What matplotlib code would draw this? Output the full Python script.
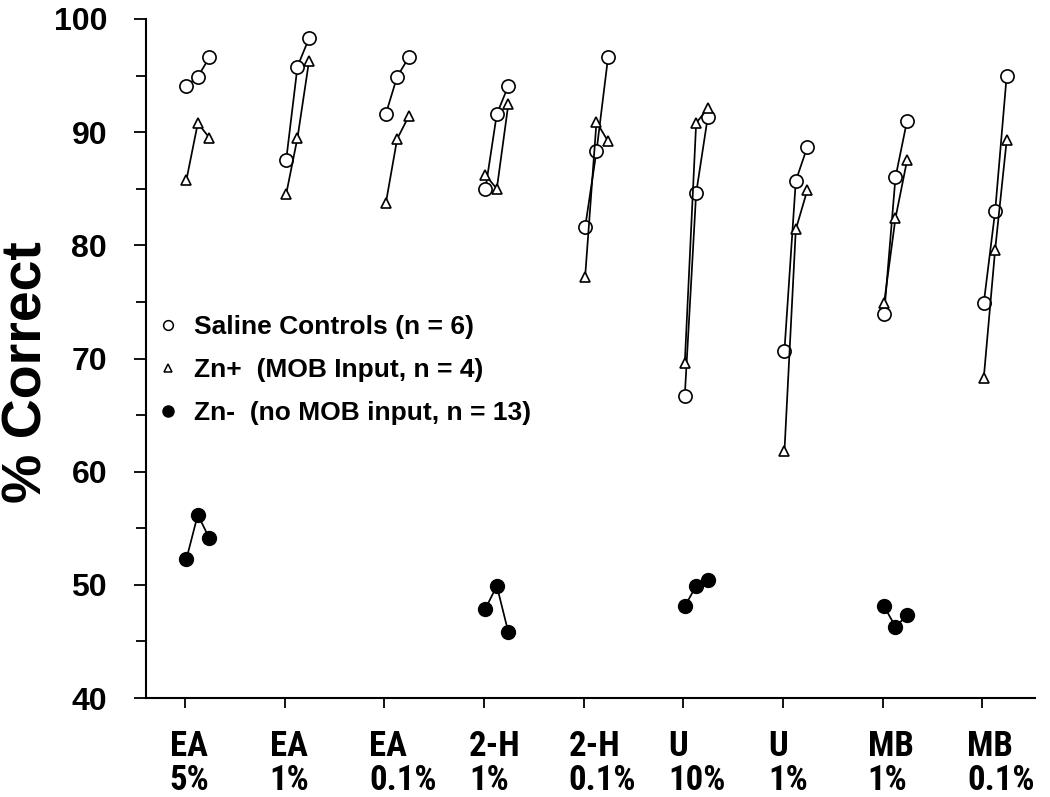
import os
import matplotlib
matplotlib.use("Agg")
import matplotlib.pyplot as plt
from matplotlib import font_manager as fm
from matplotlib.lines import Line2D
from matplotlib.ticker import MultipleLocator
import matplotlib.transforms as mtrans

# ---------------- data ----------------
categories = ['EA\n5%', 'EA\n1%', 'EA\n0.1%', '2-H\n1%', '2-H\n0.1%',
              'U\n10%', 'U\n1%', 'MB\n1%', 'MB\n0.1%']

saline = [[94.1, 94.9, 96.6], [87.5, 95.8, 98.3], [91.6, 94.9, 96.6],
          [85.0, 91.6, 94.1], [81.6, 88.3, 96.6], [66.7, 84.6, 91.3],
          [70.7, 85.7, 88.7], [73.9, 86.0, 91.0], [74.9, 83.0, 95.0]]

zn_plus = [[85.8, 90.8, 89.5], [84.5, 89.5, 96.3], [83.7, 89.4, 91.4],
           [86.2, 85.0, 92.5], [77.2, 90.9, 89.2], [69.6, 90.8, 92.1],
           [61.8, 81.4, 84.9], [74.9, 82.4, 87.5], [68.3, 79.6, 89.3]]

zn_minus_groups = [0, 3, 5, 7]          # index into categories
zn_minus = [[52.3, 56.2, 54.1], [47.9, 49.9, 45.8],
            [48.1, 49.9, 50.4], [48.1, 46.3, 47.3]]

legend_labels = ['Saline Controls (n = 6)',
                 'Zn+  (MOB Input, n = 4)',
                 'Zn-  (no MOB input, n = 13)']

# ---------------- fonts ----------------
def has_font(name):
    try:
        fm.findfont(fm.FontProperties(family=name), fallback_to_default=False)
        return True
    except Exception:
        return False


def weight_num(w):
    if isinstance(w, (int, float)):
        return w
    return fm.weight_dict.get(str(w).lower(), 400)


def find_condensed_bold():
    prefs = ['liberationsansnarrow-bold.', 'arialnarrowbold', 'arialnarrow-bold',
             'notosans-condensedbold.', 'opensans-condensedbold', 'opensans_condensed-bold',
             'robotocondensed-bold.', 'dejavusanscondensed-bold.']
    entries = fm.fontManager.ttflist
    for p in prefs:
        for f in entries:
            base = os.path.basename(f.fname).lower().replace(' ', '')
            if base.startswith(p):
                return f.fname
    for f in entries:
        base = os.path.basename(f.fname).lower()
        if ('mono' in base or 'serif' in base or 'italic' in base
                or 'oblique' in base or 'cjk' in base):
            continue
        if str(f.stretch) in ('condensed', 'semi-condensed') and weight_num(f.weight) >= 700:
            return f.fname
    return None


main_font = 'Liberation Sans' if has_font('Liberation Sans') else 'DejaVu Sans'
cond_path = find_condensed_bold()
if cond_path:
    xprop = fm.FontProperties(fname=cond_path, size=25)
else:
    xprop = fm.FontProperties(family=[main_font, 'DejaVu Sans'], weight='bold', size=21)

plt.rcParams['font.family'] = [main_font, 'DejaVu Sans']

# ---------------- figure ----------------
fig = plt.figure(figsize=(10.5, 7.97), dpi=100)
ax = fig.add_axes([146 / 1050, 1 - 698 / 797, (1035 - 146) / 1050, (698 - 19) / 797])

offsets = [0.016, 0.13, 0.246]
line_kw = dict(color='black', lw=1.25)

for gi, vals in enumerate(saline):
    xs = [gi + 1 + o for o in offsets]
    ax.plot(xs, vals, marker='o', ms=9.5, mfc='white', mec='black', mew=1.2,
            zorder=3, **line_kw)

for gi, vals in enumerate(zn_plus):
    xs = [gi + 1 + o for o in offsets]
    ax.plot(xs, vals, marker='^', ms=7.5, mfc='white', mec='black', mew=1.2,
            zorder=3, **line_kw)

for gi, vals in zip(zn_minus_groups, zn_minus):
    xs = [gi + 1 + o for o in offsets]
    ax.plot(xs, vals, marker='o', ms=10, mfc='black', mec='black',
            zorder=3, **line_kw)

# ---------------- axes styling ----------------
ax.set_xlim(0.61, 9.53)
ax.set_ylim(40, 100)
ax.spines['top'].set_visible(False)
ax.spines['right'].set_visible(False)
for s in ('left', 'bottom'):
    ax.spines[s].set_linewidth(1.5)

ax.set_xticks(range(1, len(categories) + 1))
ax.set_xticklabels(categories)
ax.yaxis.set_major_locator(MultipleLocator(10))
ax.yaxis.set_minor_locator(MultipleLocator(5))
ax.tick_params(axis='y', which='major', direction='out', length=9, width=1.3,
               pad=19, labelsize=23)
ax.tick_params(axis='y', which='minor', direction='out', length=7, width=1.3)
ax.tick_params(axis='x', which='major', direction='out', length=7, width=1.3,
               pad=16)
for lab in ax.get_yticklabels():
    lab.set_fontweight('bold')

shift = mtrans.ScaledTranslation(-15 / 100, 0, fig.dpi_scale_trans)
for lab in ax.get_xticklabels():
    lab.set_fontproperties(xprop)
    lab.set_ha('left')
    lab.set_multialignment('left')
    lab.set_linespacing(1.05)
    lab.set_transform(lab.get_transform() + shift)

fig.text(28 / 1050, 1 - 372 / 797, '% Correct', rotation=90, ha='center',
         va='center', fontsize=40, fontweight='bold')

handles = [
    Line2D([], [], ls='none', marker='o', ms=7, mfc='white', mec='black', mew=1.1),
    Line2D([], [], ls='none', marker='^', ms=6, mfc='white', mec='black', mew=1.1),
    Line2D([], [], ls='none', marker='o', ms=8, mfc='black', mec='black'),
]
leg = ax.legend(handles, legend_labels, loc='upper left',
                bbox_to_anchor=((157 - 146) / 889, (698 - 315) / 679),
                frameon=False, borderpad=0, borderaxespad=0,
                handlelength=0.8, handletextpad=0.6, labelspacing=0.72,
                prop=dict(size=19, weight='bold'))

fig.savefig('out.png', dpi=100)
